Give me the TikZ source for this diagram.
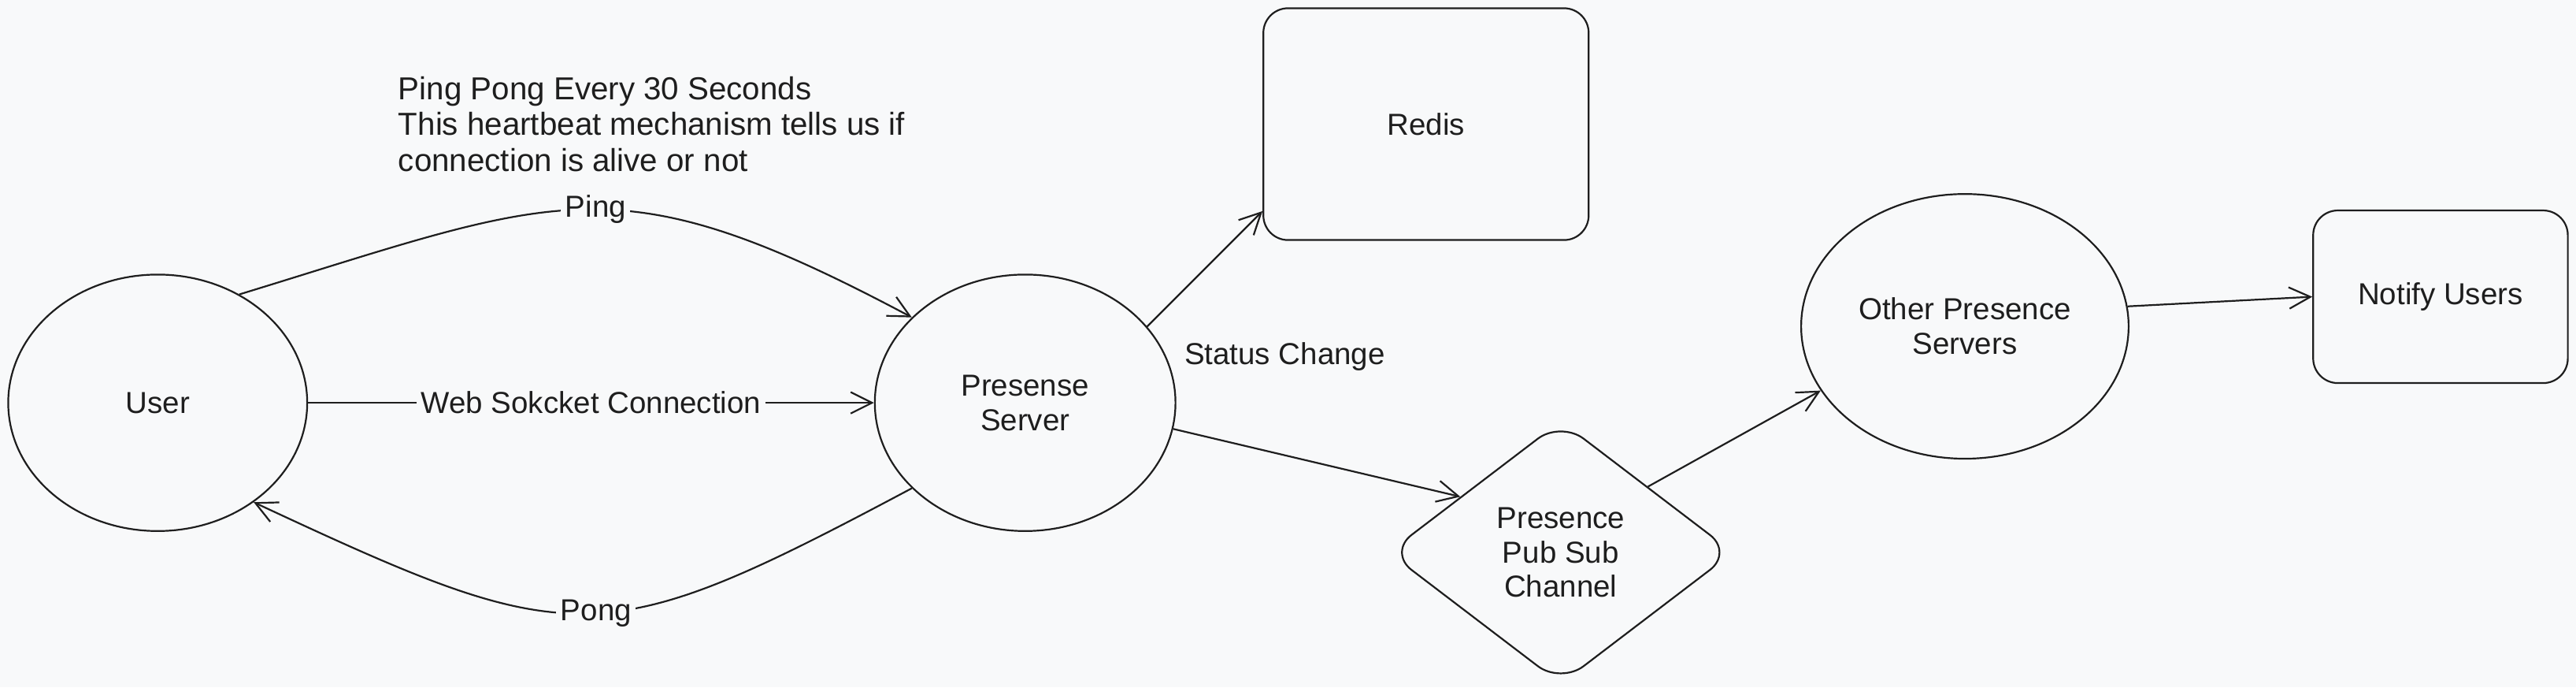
\documentclass[tikz,border=0pt]{standalone}
\usepackage{fontspec}
\setmainfont{Liberation Sans}
\usepackage{tikz}
\usetikzlibrary{shapes.geometric}
\usetikzlibrary{arrows.meta}
\definecolor{paper}{RGB}{248,249,250}
\definecolor{ink}{RGB}{30,30,30}
\newcommand{\lblfont}{\fontsize{10.5}{12}\selectfont}

\begin{document}
\begin{tikzpicture}[line width=0.6pt, color=ink,
        blob/.style={ellipse, draw, font=\lblfont, align=center},
        card/.style={rectangle, draw, rounded corners=0.3cm, font=\lblfont, align=center},
        gem/.style={diamond, draw, rounded corners=0.35cm, font=\lblfont, align=center, inner sep=0pt},
        arr/.style={-{Straight Barb[length=2.6mm,width=2.6mm]}},
        tag/.style={fill=paper, font=\lblfont, inner sep=1.5pt}]
        \fill[paper] (0,0) rectangle (31.36,-8.36);
        \useasboundingbox (0,0) rectangle (31.36,-8.36);
        %nodes
        \node[blob, minimum width=3.64cm, minimum height=3.12cm] (user) at (1.92,-4.90) {User};
        \node[blob, minimum width=3.66cm, minimum height=3.12cm] (pserver) at (12.48,-4.90) {Presense\\Server};
        \node[card, minimum width=3.96cm, minimum height=2.82cm] (redis) at (17.36,-1.51) {Redis};
        \node[gem, minimum width=4.2cm, minimum height=3.2cm] (pubsub) at (19.00,-6.72) {Presence\\Pub Sub\\Channel};
        \node[blob, minimum width=3.96cm, minimum height=3.22cm] (other) at (23.92,-3.97) {Other Presence\\Servers};
        \node[card, minimum width=3.1cm, minimum height=2.1cm] (notify) at (29.71,-3.61) {Notify Users};
        \node[font=\lblfont] (status) at (15.64,-4.34) {Status Change};
        \node[anchor=north west, align=left, inner sep=0pt, font=\fontsize{11}{12.4}\selectfont] (note) at (4.84,-0.92) {Ping Pong Every 30 Seconds\\This heartbeat mechanism tells us if\\connection is alive or not};
        %heartbeat
        \draw[arr] (user.53) .. controls +(17:4.1) and +(152:4.1) .. (pserver.143) node[tag, pos=0.52] (ping) {Ping};
        \draw[arr] (user.east) -- (pserver.west) node[tag, midway] (wsock) {Web Sokcket Connection};
        \draw[arr] (pserver.217) .. controls +(208:4.3) and +(335:4.3) .. (user.314) node[tag, pos=0.48] (pong) {Pong};
        %status flow
        \draw[arr] (pserver.32) -- (redis.208);
        \draw[arr] (pserver.-10) -- (pubsub.151);
        \draw[arr] (pubsub.37) -- (other.204);
        \draw[arr] (other.7) -- (notify.west);
\end{tikzpicture}
\end{document}
